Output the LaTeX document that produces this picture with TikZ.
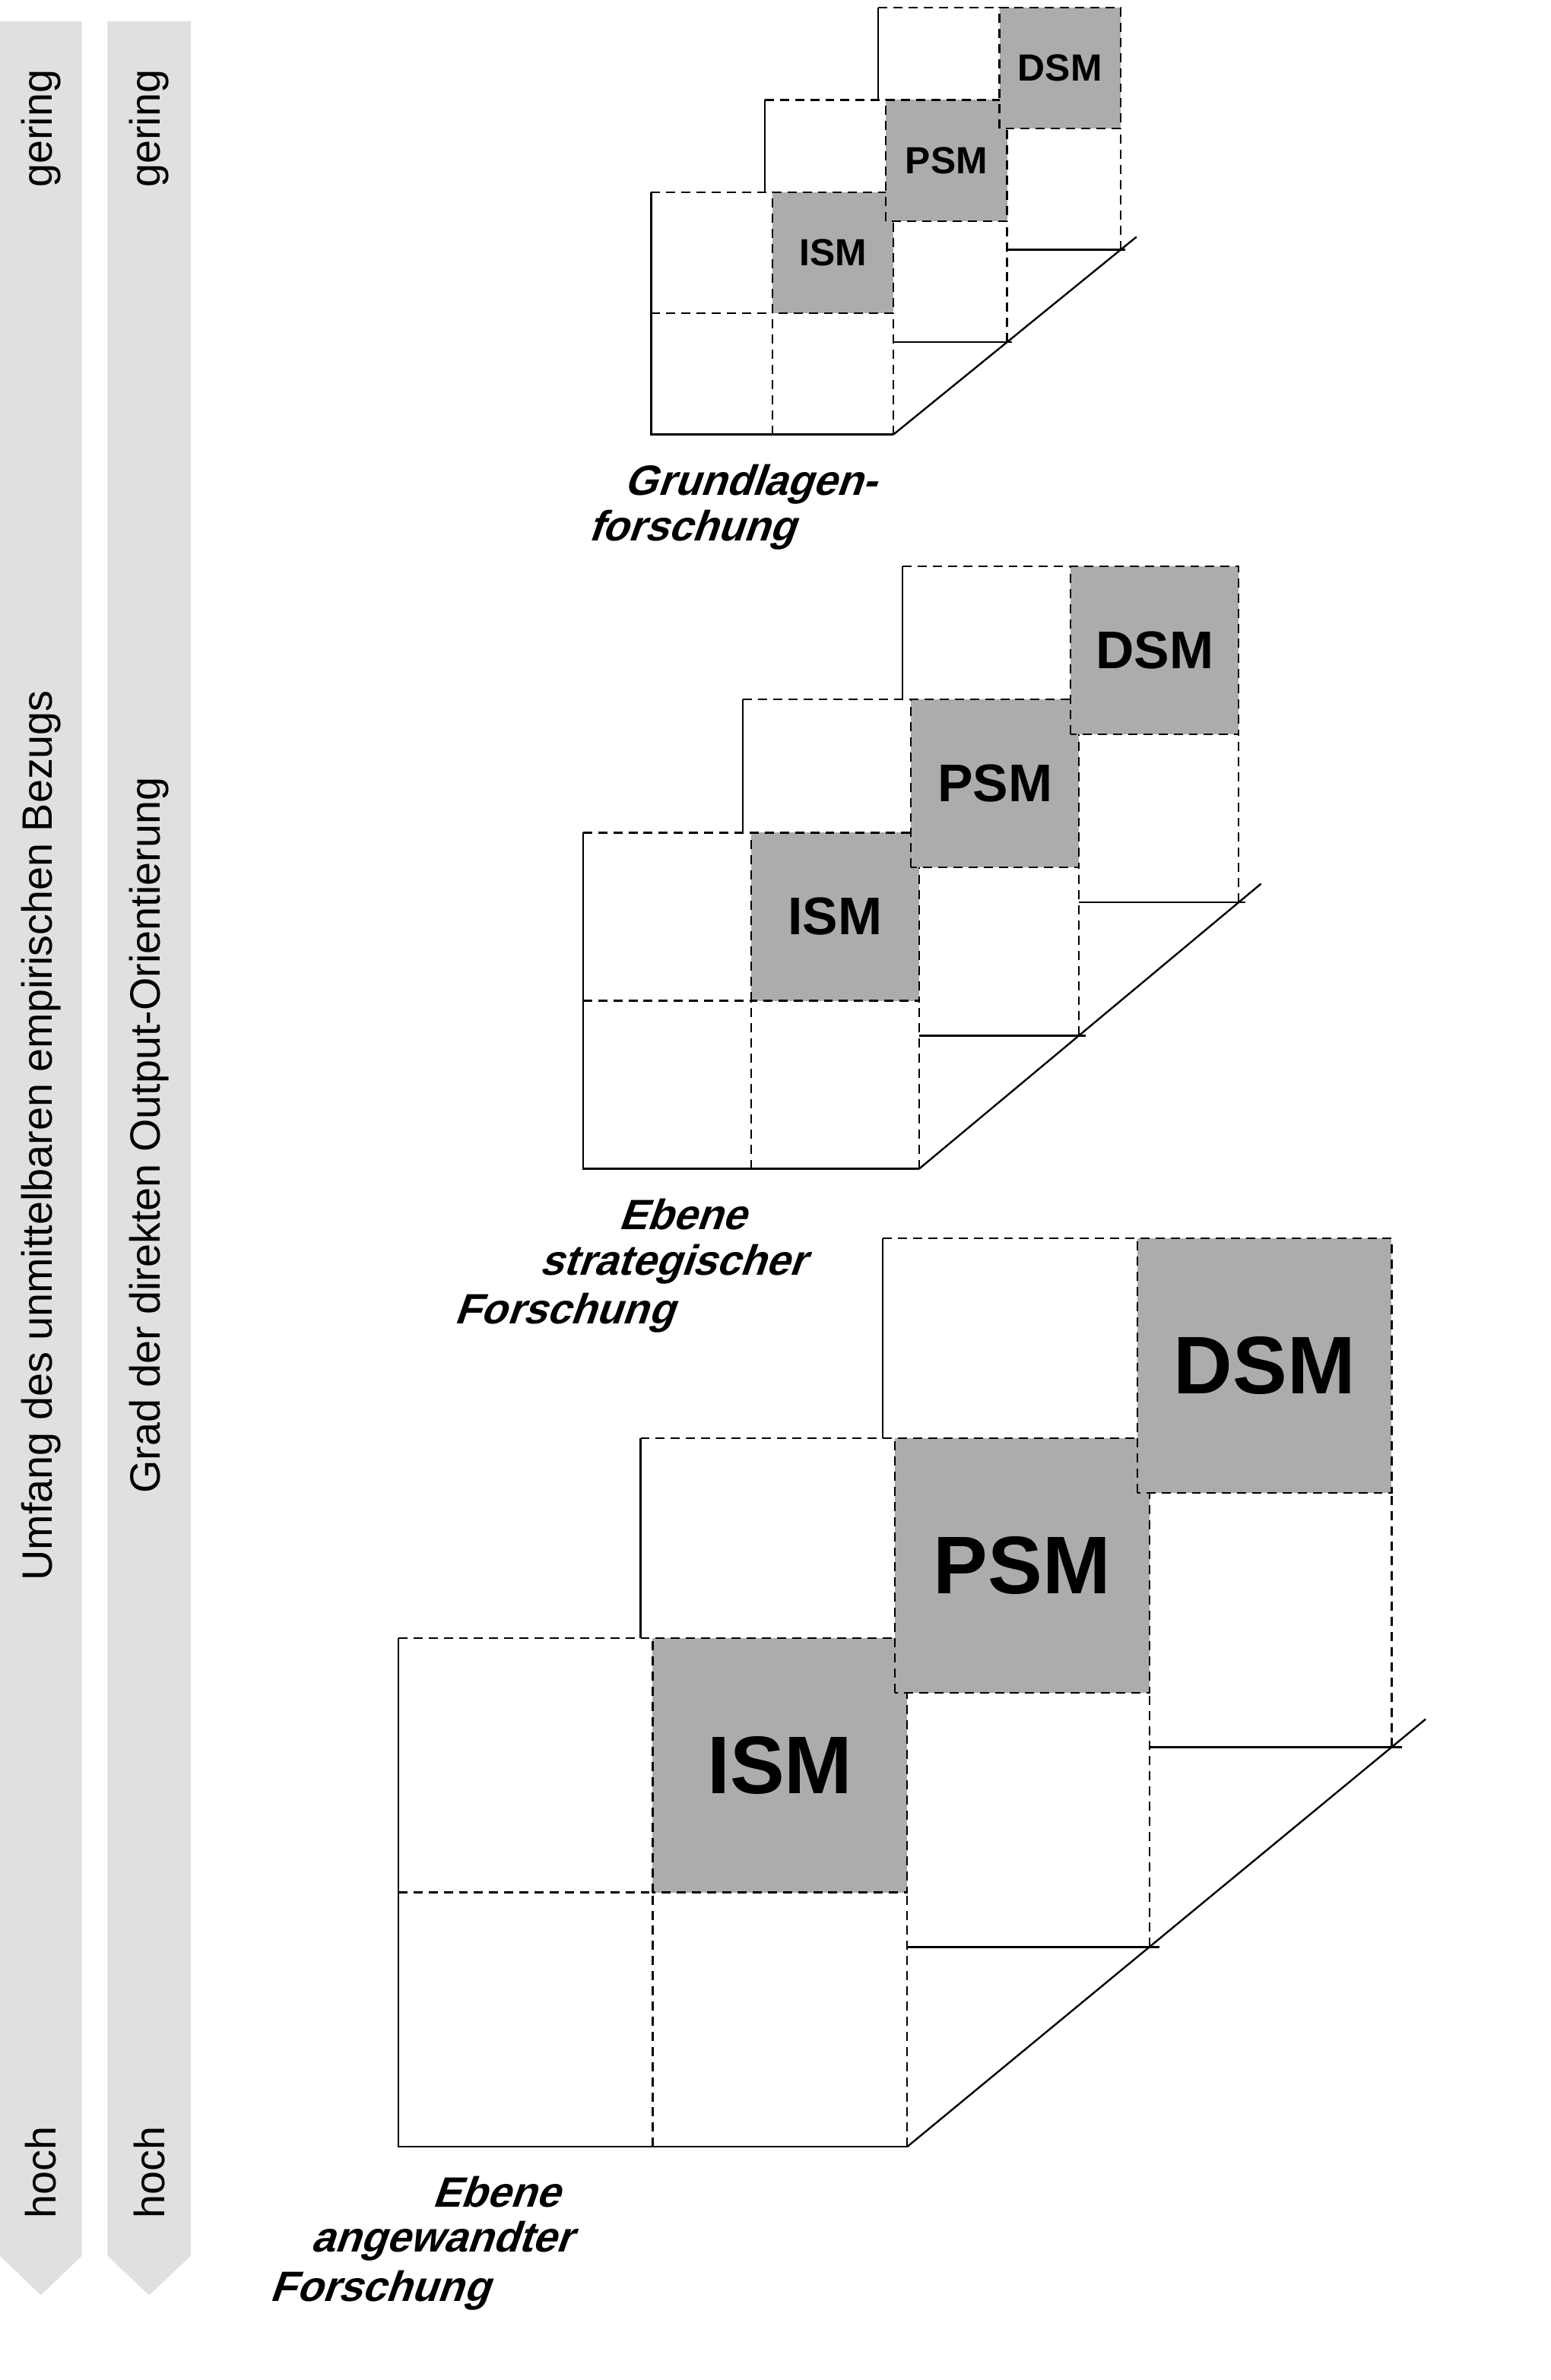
\documentclass[tikz,border=0pt]{standalone}
\usepackage{fontspec}
\usetikzlibrary{calc}
\setmainfont{Liberation Sans}
\newfontfamily\labfont[FakeSlant=0.35]{Liberation Sans}
\begin{document}
\begin{tikzpicture}[x=1pt,y=1pt,
  ln/.style={line width=1.2pt},
  ds/.style={line width=1.2pt,dash pattern=on 6pt off 4pt},
  cell/.style={ds,fill=gray!65},
  bar/.style={fill=black!12,draw=none},
  bt/.style={rotate=90,font=\fontsize{28}{30}\selectfont},
  lab/.style={anchor=west,font=\labfont\bfseries\fontsize{28}{30}\selectfont,inner sep=0pt}]
\useasboundingbox (0,0) rectangle (1024,1572);
% bars
\fill[bar] (0,1558) -- (54,1558) -- (54,82) -- (27,56) -- (0,82) -- cycle;
\fill[bar] (71,1558) -- (126,1558) -- (126,82) -- (98.5,56) -- (71,82) -- cycle;
\node[bt] (g1) at (27,1487) {gering};
\node[bt] (h1) at (27,137) {hoch};
\node[bt] (m1) at (27,822) {Umfang des unmittelbaren empirischen Bezugs};
\node[bt] (g2) at (98.5,1487) {gering};
\node[bt] (h2) at (98.5,137) {hoch};
\node[bt] (m2) at (98.5,822) {Grad der direkten Output-Orientierung};
% group macro: x0, Y0, s, dx, dy, fontsize
\newcommand\mygroup[6]{%
 \begin{scope}[shift={(#1,#2)}]
  \def\s{#3}\def\dx{#4}\def\dy{#5}
  \draw[cell] (\s,\s) rectangle (2*\s,2*\s);
  \node[font=\bfseries\fontsize{#6}{#6}\selectfont] at (1.5*\s,1.5*\s) {ISM};
  \draw[ln] (0,2*\s) -- (0,0) -- (2*\s,0);
  \draw[ds] (0,2*\s) -- (\s,2*\s) (0,\s) -- (\s,\s) (\s,0) -- (\s,\s) (2*\s,0) -- (2*\s,\s);
  \foreach \k/\t in {1/PSM,2/DSM}{
   \begin{scope}[shift={(\k*\dx,\k*\dy)}]
    \draw[ln] (0,2*\s-\dy) -- (0,2*\s);
    \draw[ds] (0,2*\s) -- (\s,2*\s);
    \draw[cell] (\s,\s) rectangle (2*\s,2*\s);
    \node[font=\bfseries\fontsize{#6}{#6}\selectfont] at (1.5*\s,1.5*\s) {\t};
    \draw[ds] (2*\s,0) -- (2*\s,\s);
    \draw[ln] (2*\s-\dx,0) -- (2*\s+0.04*\s,0);
   \end{scope}}
  \draw[ln] (2*\s,0) -- ($(2*\s,0)!1.07!(2*\s+2*\dx,2*\dy)$);
 \end{scope}}
\mygroup{430}{1285}{80}{75}{61}{25}
\mygroup{385}{800}{111}{105.5}{88}{35}
\mygroup{263}{154}{168}{160}{132}{54}
% labels
\node[lab] (l1) at (412,1252) {Grundlagen-};
\node[lab] (l2) at (388,1222) {forschung};
\node[lab] (l3) at (408,770) {Ebene};
\node[lab] (l4) at (356,737) {strategischer};
\node[lab] (l5) at (300,705) {Forschung};
\node[lab] (l6) at (285,124) {Ebene};
\node[lab] (l7) at (205,92) {angewandter};
\node[lab] (l8) at (178,59) {Forschung};
\end{tikzpicture}
\end{document}
